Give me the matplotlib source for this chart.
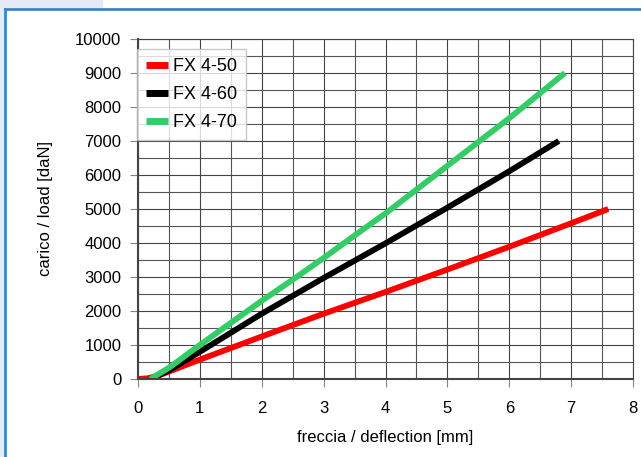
import matplotlib
matplotlib.use("Agg")
import matplotlib.pyplot as plt
from matplotlib.patches import Rectangle
from matplotlib.lines import Line2D
from matplotlib.ticker import MultipleLocator

plt.rcParams['font.family'] = ['Liberation Sans', 'DejaVu Sans']

# curve data
x_50 = [0.0, 0.15, 0.3, 0.5, 1.0, 2.0, 3.0, 4.0, 5.0, 6.0, 7.0, 7.6]
y_50 = [0, 20, 80, 220, 570, 1250, 1920, 2560, 3220, 3890, 4580, 5000]

x_60 = [0.2, 0.5, 1.0, 2.0, 3.0, 4.0, 5.0, 6.0, 6.8]
y_60 = [0, 250, 800, 1920, 2970, 3990, 5040, 6110, 7000]

x_70 = [0.2, 0.5, 1.0, 1.5, 2.0, 2.5, 3.0, 3.5, 4.0, 5.0, 6.0, 6.9]
y_70 = [0, 330, 1000, 1650, 2300, 2920, 3560, 4220, 4870, 6270, 7670, 9000]

labels = ['FX 4-50', 'FX 4-60', 'FX 4-70']
colors = ['#ff0000', '#000000', '#33cc66']

xticks = [0, 1, 2, 3, 4, 5, 6, 7, 8]
yticks = [0, 1000, 2000, 3000, 4000, 5000, 6000, 7000, 8000, 9000, 10000]

fig = plt.figure(figsize=(6.41, 4.57), dpi=100)
W, H = 641, 457

# page decorations: gray strips and blue frame
fig.patches.append(Rectangle((0, 0), 4 / W, 1, transform=fig.transFigure,
                             color='#e6eaf4', zorder=0))
fig.patches.append(Rectangle((0, 1 - 8 / H), 102 / W, 8 / H, transform=fig.transFigure,
                             color='#e6eaf4', zorder=0))
fig.lines.append(Line2D([5 / W, 1], [1 - 8.5 / H, 1 - 8.5 / H], transform=fig.transFigure,
                        color='#3d85c6', lw=2))
fig.lines.append(Line2D([5 / W, 5 / W], [0, 1 - 8.5 / H], transform=fig.transFigure,
                        color='#3d85c6', lw=2))

ax = fig.add_axes([138 / W, 1 - 379 / H, 495 / W, 340 / H])

ax.plot(x_50, y_50, color=colors[0], lw=4.2, label=labels[0], solid_capstyle='butt')
ax.plot(x_60, y_60, color=colors[1], lw=4.2, label=labels[1], solid_capstyle='butt')
ax.plot(x_70, y_70, color=colors[2], lw=4.2, label=labels[2], solid_capstyle='butt')

ax.set_xlim(0, 8)
ax.set_ylim(0, 10000)
ax.set_xticks(xticks)
ax.set_yticks(yticks)
ax.xaxis.set_minor_locator(MultipleLocator(0.5))
ax.yaxis.set_minor_locator(MultipleLocator(500))
ax.grid(True, which='major', color='#444444', lw=0.8)
ax.grid(True, which='minor', color='#555555', lw=0.8)
ax.set_axisbelow(True)
ax.tick_params(which='major', length=6, color='#888888', labelsize=12)
ax.tick_params(axis='x', pad=10)
ax.tick_params(axis='y', pad=6)
ax.tick_params(which='minor', length=0)
for s in ax.spines.values():
    s.set_color('#444444')
    s.set_linewidth(0.8)
ax.spines['left'].set_linewidth(1.5)
ax.spines['bottom'].set_linewidth(1.5)

ax.set_xlabel('freccia / deflection [mm]', fontsize=12, labelpad=10)
ax.set_ylabel('carico / load [daN]', fontsize=12, labelpad=16)

leg = ax.legend(loc='upper left', bbox_to_anchor=(-0.003, 0.97), fontsize=13,
                frameon=True, fancybox=False, handlelength=1.25, handletextpad=0.25,
                borderpad=0.5, labelspacing=0.6, borderaxespad=0)
leg.get_frame().set_edgecolor('#bbbbbb')
leg.get_frame().set_linewidth(1.0)
for h in leg.legend_handles:
    h.set_linewidth(5)

fig.savefig('out.png', dpi=100)
